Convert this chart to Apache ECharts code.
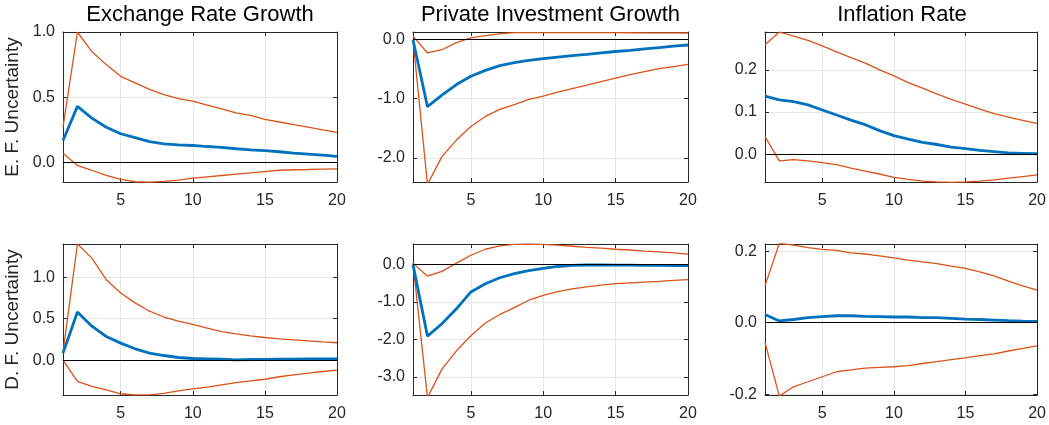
<!DOCTYPE html>
<html><head><meta charset="utf-8">
<script src="https://cdn.jsdelivr.net/npm/echarts@6/dist/echarts.min.js"></script>
<style>html,body{margin:0;padding:0;background:#fff}#c{width:1049px;height:425px}</style>
</head><body><div id="c"></div>
<script>
// ---- data ----
const steps = [1,2,3,4,5,6,7,8,9,10,11,12,13,14,15,16,17,18,19,20];
const xTicks = [5,10,15,20];
const colTitles = ['Exchange Rate Growth','Private Investment Growth','Inflation Rate'];
const rowNames = ['E. F. Uncertainty','D. F. Uncertainty'];

// Row 1: E. F. Uncertainty
const erEF_mid = [0.168,0.43,0.34,0.27,0.22,0.19,0.16,0.143,0.135,0.13,0.122,0.115,0.105,0.097,0.09,0.082,0.072,0.064,0.056,0.046];
const erEF_hi  = [0.27,1.0,0.85,0.75,0.66,0.61,0.56,0.52,0.49,0.47,0.44,0.41,0.38,0.36,0.33,0.31,0.29,0.27,0.25,0.23];
const erEF_lo  = [0.07,-0.023,-0.06,-0.10,-0.13,-0.148,-0.152,-0.145,-0.135,-0.12,-0.11,-0.10,-0.09,-0.08,-0.07,-0.06,-0.056,-0.054,-0.051,-0.049];

const ivEF_mid = [0,-1.135,-0.94,-0.76,-0.62,-0.52,-0.44,-0.39,-0.35,-0.32,-0.295,-0.27,-0.25,-0.225,-0.20,-0.18,-0.157,-0.135,-0.11,-0.09];
const ivEF_hi  = [0.06,-0.225,-0.17,-0.05,0.03,0.07,0.10,0.118,0.12,0.12,0.12,0.12,0.12,0.118,0.118,0.117,0.116,0.115,0.114,0.113];
const ivEF_lo  = [0.0,-2.45,-1.98,-1.70,-1.47,-1.30,-1.18,-1.10,-1.01,-0.956,-0.89,-0.83,-0.77,-0.71,-0.65,-0.59,-0.54,-0.49,-0.455,-0.42];

const inEF_mid = [0.138,0.129,0.125,0.117,0.105,0.093,0.081,0.070,0.056,0.044,0.036,0.028,0.023,0.017,0.013,0.009,0.006,0.003,0.002,0.001];
const inEF_hi  = [0.26,0.29,0.28,0.27,0.257,0.243,0.229,0.216,0.20,0.186,0.17,0.157,0.143,0.13,0.119,0.107,0.096,0.088,0.08,0.073];
const inEF_lo  = [0.042,-0.016,-0.013,-0.016,-0.02,-0.025,-0.033,-0.04,-0.047,-0.055,-0.06,-0.064,-0.066,-0.067,-0.066,-0.064,-0.061,-0.057,-0.053,-0.049];

// Row 2: D. F. Uncertainty
const erDF_mid = [0.085,0.58,0.41,0.285,0.205,0.137,0.085,0.056,0.032,0.02,0.016,0.012,0.004,0.008,0.008,0.012,0.012,0.016,0.016,0.016];
const erDF_hi  = [0.09,1.40,1.23,0.97,0.81,0.69,0.59,0.52,0.47,0.43,0.385,0.345,0.317,0.293,0.273,0.257,0.245,0.233,0.22,0.21];
const erDF_lo  = [0.0,-0.257,-0.317,-0.357,-0.405,-0.42,-0.418,-0.40,-0.37,-0.345,-0.325,-0.297,-0.27,-0.25,-0.23,-0.20,-0.177,-0.157,-0.137,-0.12];

const ivDF_mid = [0,-1.91,-1.58,-1.18,-0.73,-0.51,-0.35,-0.24,-0.16,-0.1,-0.05,-0.02,-0.01,-0.01,-0.012,-0.015,-0.018,-0.02,-0.024,-0.027];
const ivDF_hi  = [0.04,-0.31,-0.18,0.04,0.25,0.41,0.50,0.54,0.55,0.54,0.52,0.49,0.46,0.44,0.41,0.39,0.36,0.34,0.315,0.28];
const ivDF_lo  = [0.04,-3.55,-2.79,-2.30,-1.90,-1.56,-1.33,-1.15,-0.95,-0.82,-0.72,-0.645,-0.595,-0.55,-0.51,-0.49,-0.47,-0.45,-0.42,-0.40];

const inDF_mid = [0.023,0.005,0.009,0.014,0.017,0.0195,0.0195,0.018,0.017,0.016,0.016,0.014,0.014,0.012,0.010,0.009,0.0075,0.0056,0.0047,0.004];
const inDF_hi  = [0.103,0.222,0.217,0.21,0.205,0.202,0.195,0.192,0.187,0.181,0.175,0.17,0.165,0.158,0.152,0.142,0.131,0.116,0.103,0.091];
const inDF_lo  = [-0.055,-0.205,-0.179,-0.165,-0.151,-0.137,-0.132,-0.127,-0.125,-0.123,-0.12,-0.114,-0.109,-0.103,-0.098,-0.092,-0.087,-0.079,-0.072,-0.065];

// axis extents and tick labels
const yMin = [-0.15, -2.41, -0.066, -0.42, -3.48, -0.202];
const yMax = [1.0, 0.13, 0.29, 1.40, 0.55, 0.22];
const yTicks = [[0,0.5,1.0],[-2,-1,0],[0,0.1,0.2],[0,0.5,1.0],[-3,-2,-1,0],[-0.2,0,0.2]];

const panels = [
  [erEF_mid, erEF_hi, erEF_lo],
  [ivEF_mid, ivEF_hi, ivEF_lo],
  [inEF_mid, inEF_hi, inEF_lo],
  [erDF_mid, erDF_hi, erDF_lo],
  [ivDF_mid, ivDF_hi, ivDF_lo],
  [inDF_mid, inDF_hi, inDF_lo]
];

// ---- layout ----
const boxes = [
  {left:63, top:32, width:274, height:150},
  {left:413, top:32, width:275, height:150},
  {left:765, top:32, width:274, height:150},
  {left:63, top:244, width:274, height:151},
  {left:413, top:244, width:275, height:151},
  {left:765, top:244, width:274, height:151}
];
const FONT = 'Liberation Sans, Arial, Helvetica, sans-serif';
const TXT = '#262626';
const BLUE = '#0072BD', ORANGE = '#D95319';
const pair = v => steps.map((s,i)=>[s,v[i]]);

const grid=[], xAxis=[], yAxis=[], series=[], graphic=[];
boxes.forEach((b,p)=>{
  grid.push(Object.assign({containLabel:false}, b));
  const tickBase = {show:true, inside:true, length:4, lineStyle:{color:TXT,width:1}};
  const lineBase = {show:true, onZero:false, lineStyle:{color:TXT,width:1}};
  const split = {show:true, lineStyle:{color:'#e6e6e6',width:1}};
  xAxis.push({type:'value', gridIndex:p, position:'bottom', min:1, max:20,
    axisLine:lineBase, axisTick:Object.assign({customValues:xTicks}, tickBase),
    axisLabel:{customValues:xTicks, color:TXT, fontSize:16, fontFamily:FONT, margin:11},
    splitLine:split});
  xAxis.push({type:'value', gridIndex:p, position:'top', min:1, max:20,
    axisLine:lineBase, axisTick:Object.assign({customValues:xTicks}, tickBase),
    axisLabel:{show:false}, splitLine:{show:false}});
  const yl = {type:'value', gridIndex:p, position:'left', min:yMin[p], max:yMax[p],
    axisLine:lineBase, axisTick:Object.assign({customValues:yTicks[p]}, tickBase),
    axisLabel:{customValues:yTicks[p], color:TXT, fontSize:16, fontFamily:FONT, margin:8,
      formatter: v => Number(v).toFixed(1)},
    splitLine:split};
  if (p % 3 === 0) {
    yl.name = rowNames[p/3];
    yl.nameLocation = 'middle';
    yl.nameGap = 41;
    yl.nameTextStyle = {color:TXT, fontSize:19, fontFamily:FONT};
  }
  yAxis.push(yl);
  yAxis.push({type:'value', gridIndex:p, position:'right', min:yMin[p], max:yMax[p],
    axisLine:lineBase, axisTick:Object.assign({customValues:yTicks[p]}, tickBase),
    axisLabel:{show:false}, splitLine:{show:false}});
  const [mid,hi,lo] = panels[p];
  const xi = p*2, yi = p*2;
  series.push({type:'line', xAxisIndex:xi, yAxisIndex:yi, data:pair(hi), showSymbol:false,
    lineStyle:{color:ORANGE,width:1.3}, z:2,
    markLine:{silent:true, symbol:'none', label:{show:false}, animation:false,
      lineStyle:{color:'#000',width:1,type:'solid'}, data:[{yAxis:0}]}});
  series.push({type:'line', xAxisIndex:xi, yAxisIndex:yi, data:pair(lo), showSymbol:false,
    lineStyle:{color:ORANGE,width:1.3}, z:2});
  series.push({type:'line', xAxisIndex:xi, yAxisIndex:yi, data:pair(mid), showSymbol:false,
    lineStyle:{color:BLUE,width:2.8}, z:3});
});
colTitles.forEach((t,i)=>{
  const b = boxes[i];
  graphic.push({type:'text', x:b.left+b.width/2, y:15,
    style:{text:t, fill:'#000', font:'22px '+FONT, textAlign:'center', textVerticalAlign:'middle'}});
});

const chart = echarts.init(document.getElementById('c'), null, {renderer:'canvas'});
chart.setOption({animation:false, backgroundColor:'#fff', grid, xAxis, yAxis, series, graphic});
</script>
</body></html>
